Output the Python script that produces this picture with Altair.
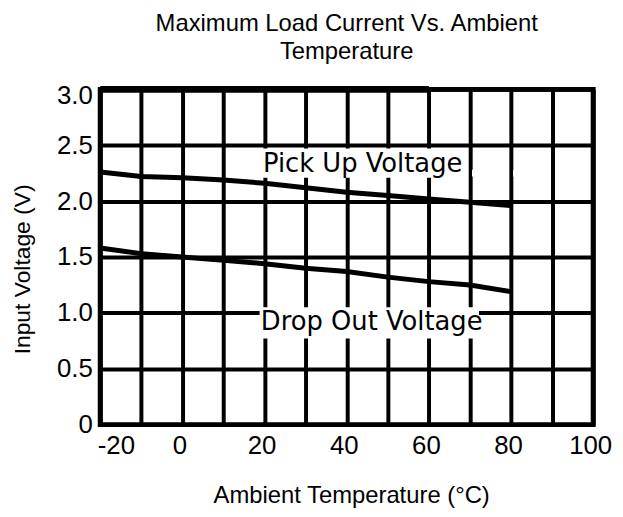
import altair as alt
import pandas as pd

# ---- data ----
temps = [-20, -10, 0, 10, 20, 30, 40, 50, 60, 70, 80]
pick_up = [2.26, 2.22, 2.21, 2.19, 2.16, 2.12, 2.08, 2.05, 2.02, 1.99, 1.96]
drop_out = [1.58, 1.53, 1.50, 1.47, 1.44, 1.40, 1.37, 1.32, 1.28, 1.25, 1.19]

label_texts = ["Pick Up Voltage", "Drop Out Voltage"]
label_x = [19.6, 19.1]
label_y = [2.33, 0.92]

# white patches in the scanned original (behind the labels)
box_x = [19.2, 70.5, 80.5, 18.8]
box_x2 = [69.5, 79.5, 82.4, 72.2]
box_y = [2.21, 2.22, 2.22, 0.77]
box_y2 = [2.47, 2.28, 2.28, 1.05]

# thicker stretch of the top border in the original
top_x = [-20]
top_x2 = [60]
top_y = [3.0]

x_ticks = list(range(-20, 101, 10))
y_ticks = [i * 0.25 for i in range(13)]

lines_df = pd.DataFrame({
    "temp": temps * 2,
    "volt": pick_up + drop_out,
    "series": ["Pick Up Voltage"] * len(temps) + ["Drop Out Voltage"] * len(temps),
})
labels_df = pd.DataFrame({"text": label_texts, "x": label_x, "y": label_y})
boxes_df = pd.DataFrame({"x": box_x, "x2": box_x2, "y": box_y, "y2": box_y2})
top_df = pd.DataFrame({"x": top_x, "x2": top_x2, "y": top_y})

TICK_FONT = "Liberation Sans, Arial, sans-serif"
TITLE_FONT = "Liberation Sans, Arial, sans-serif"

x_scale = alt.Scale(domain=[-20, 100], nice=False, zero=False)
y_scale = alt.Scale(domain=[0, 3], nice=False)

x_axis = alt.Axis(
    values=x_ticks,
    labelExpr="datum.value % 20 == 0 ? '' + datum.value : ''",
    labelAlign={"condition": {"test": "datum.value == -20", "value": "left"}, "value": "center"},
    labelFlush=False,
    labelOverlap=False,
    labelOffset=-3,
    labelFont=TICK_FONT,
    labelFontSize=26,
    labelColor="black",
    labelPadding=8,
    title="Ambient Temperature (°C)",
    titleFont=TITLE_FONT,
    titleFontSize=24,
    titleFontWeight="normal",
    titleColor="black",
    titleX=253,
    titleY=79,
    titleBaseline="alphabetic",
    titleAlign="center",
)
y_axis = alt.Axis(
    values=y_ticks,
    labelExpr="datum.value == 0 ? '0' : (round(datum.value * 4) % 2 == 0 ? format(datum.value, '.1f') : '')",
    labelOverlap=False,
    labelOffset={"condition": {"test": "datum.value == 3", "value": 6}, "value": 0},
    labelFont=TICK_FONT,
    labelFontSize=26,
    labelColor="black",
    labelPadding=8,
    title="Input Voltage (V)",
    titleFont=TITLE_FONT,
    titleFontSize=23,
    titleFontWeight="normal",
    titleColor="black",
    titleX=-66,
    titleY=181,
    titleAngle=-90,
    titleBaseline="bottom",
    titleAlign="center",
)

boxes = alt.Chart(boxes_df).mark_rect(color="white", opacity=1).encode(
    x=alt.X("x:Q", scale=x_scale, axis=x_axis),
    x2="x2:Q",
    y=alt.Y("y:Q", scale=y_scale, axis=y_axis),
    y2="y2:Q",
)

top_rule = alt.Chart(top_df).mark_rule(color="black", strokeWidth=7).encode(
    x="x:Q", x2="x2:Q", y="y:Q"
)

lines = alt.Chart(lines_df).mark_line(color="black", strokeWidth=5).encode(
    x="temp:Q",
    y="volt:Q",
    detail="series:N",
)

texts = alt.Chart(labels_df).mark_text(
    align="left", baseline="middle", font="DejaVu Sans", fontSize=26, color="black"
).encode(
    x="x:Q",
    y="y:Q",
    text="text:N",
)

chart = alt.layer(boxes, top_rule, lines, texts).properties(
    width=497,
    height=338,
    background="white",
    autosize=alt.AutoSizeParams(type="none"),
    padding={"left": 93, "top": 80, "right": 22, "bottom": 83},
    title=alt.TitleParams(
        text=["Maximum Load Current Vs. Ambient", "Temperature"],
        font=TITLE_FONT,
        fontSize=24,
        fontWeight="normal",
        color="black",
        anchor="middle",
        lineHeight=28,
        offset=19,
    ),
).configure_view(
    stroke="black", strokeWidth=5
).configure_axis(
    grid=True,
    gridColor="black",
    gridWidth=4,
    gridOpacity=1,
    domain=False,
    ticks=False,
)

chart.save("out.html", embed_options={"renderer": "svg", "actions": False})
